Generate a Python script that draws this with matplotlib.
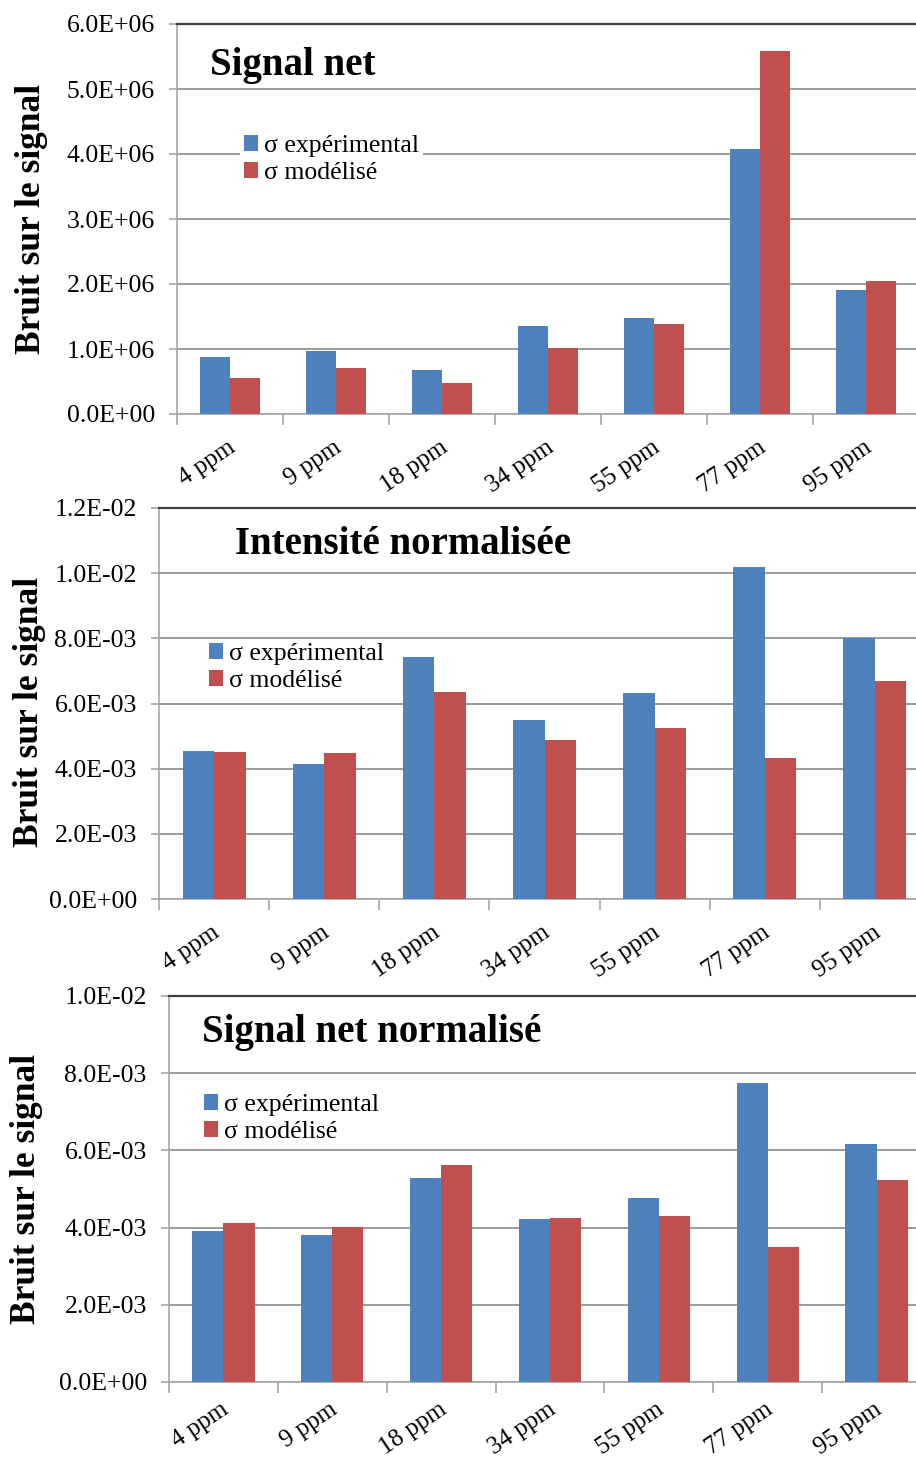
import numpy as np
import matplotlib
matplotlib.use("Agg")
import matplotlib.pyplot as plt
import matplotlib.transforms as mtransforms
from matplotlib.patches import Patch
from matplotlib.ticker import FuncFormatter

# ── DATA ─────────────────────────────────────────────────────────────────────
categories = ["4 ppm", "9 ppm", "18 ppm", "34 ppm", "55 ppm", "77 ppm", "95 ppm"]
series_names = ["σ expérimental", "σ modélisé"]

signal_net_exp = [0.878e6, 0.965e6, 0.674e6, 1.36e6, 1.48e6, 4.08e6, 1.915e6]
signal_net_mod = [0.56e6, 0.715e6, 0.47e6, 1.01e6, 1.39e6, 5.58e6, 2.05e6]

intensite_exp = [4.54e-3, 4.15e-3, 7.44e-3, 5.50e-3, 6.32e-3, 10.18e-3, 8.00e-3]
intensite_mod = [4.51e-3, 4.48e-3, 6.35e-3, 4.88e-3, 5.24e-3, 4.34e-3, 6.68e-3]

signal_norm_exp = [3.92e-3, 3.82e-3, 5.29e-3, 4.22e-3, 4.77e-3, 7.75e-3, 6.16e-3]
signal_norm_mod = [4.12e-3, 4.02e-3, 5.62e-3, 4.25e-3, 4.30e-3, 3.51e-3, 5.24e-3]

titles = ["Signal net", "Intensité normalisée", "Signal net normalisé"]
ylabel = "Bruit sur le signal"
y_max = [6.0e6, 1.2e-2, 1.0e-2]
y_step = [1.0e6, 2.0e-3, 2.0e-3]

# ── STYLE ────────────────────────────────────────────────────────────────────
plt.rcParams['font.family'] = ['Liberation Serif', 'DejaVu Serif']
BLUE = '#4F81BD'
RED = '#C0504D'
W, H = 916, 1459
DPI = 100

fig = plt.figure(figsize=(W / DPI, H / DPI), dpi=DPI)

# axes boxes in pixels: left, top, right, bottom
boxes = [(177, 24, 919, 414), (159, 508, 930, 899), (169, 996, 931, 1382)]
title_pos = [(210, 75), (235, 554), (202, 1042)]
legend_pos = [(240, 131), (205, 639), (200, 1090)]   # top-left of legend box
ylabel_pos = [(31, 219), (30, 712), (27, 1189)]
xlabel_pad = [16, 16, 12]

datasets = [(signal_net_exp, signal_net_mod),
            (intensite_exp, intensite_mod),
            (signal_norm_exp, signal_norm_mod)]


def sci(v, _):
    return f"{v:.1E}"


x = np.arange(len(categories))
bw = 1 / 3.5

for i, (exp, mod) in enumerate(datasets):
    l, t, r, b = boxes[i]
    ax = fig.add_axes([l / W, 1 - b / H, (r - l) / W, (b - t) / H])
    ax.bar(x - bw / 2, exp, bw, color=BLUE, zorder=3)
    ax.bar(x + bw / 2, mod, bw, color=RED, zorder=3)

    ax.set_xlim(-0.5, len(categories) - 0.5)
    ax.set_ylim(0, y_max[i])
    ax.set_yticks(np.arange(0, y_max[i] + y_step[i] / 2, y_step[i]))
    ax.yaxis.set_major_formatter(FuncFormatter(sci))
    ax.grid(axis='y', color='#8a8a8a', linewidth=1.2, zorder=0)
    ax.set_axisbelow(True)

    for side in ['left', 'bottom']:
        ax.spines[side].set_color('#a6a6a6')
        ax.spines[side].set_linewidth(1.2)
    ax.spines['top'].set_color('#404040')
    ax.spines['top'].set_linewidth(1.6)
    ax.spines['right'].set_visible(False)

    ax.tick_params(axis='y', length=6, width=1.2, color='#a6a6a6',
                   pad=10, labelsize=18.5)
    # category labels at centres, boundary tick marks as minor ticks
    ax.set_xticks(x)
    ax.set_xticklabels(categories)
    ax.set_xticks(np.arange(-0.5, len(categories)), minor=True)
    ax.tick_params(axis='x', which='major', length=0, pad=xlabel_pad[i],
                   labelsize=18)
    ax.tick_params(axis='x', which='minor', length=8, width=1.2, color='#a6a6a6')
    offset = mtransforms.ScaledTranslation(-3 / DPI, 0, fig.dpi_scale_trans)
    for lab in ax.get_xticklabels():
        lab.set_rotation(34)
        lab.set_ha('right')
        lab.set_va('top')
        lab.set_rotation_mode('anchor')
        lab.set_transform(lab.get_transform() + offset)

    tx, ty = title_pos[i]
    fig.text(tx / W, 1 - ty / H, titles[i], fontsize=28, fontweight='bold',
             ha='left', va='baseline')

    lx, ly = legend_pos[i]
    handles = [Patch(facecolor=BLUE), Patch(facecolor=RED)]
    leg = ax.legend(handles, series_names, loc='upper left',
                    bbox_to_anchor=(lx / W, 1 - ly / H),
                    bbox_transform=fig.transFigure, fontsize=18.5,
                    frameon=True, facecolor='white', edgecolor='none',
                    fancybox=False, framealpha=1, borderpad=0.15,
                    handlelength=0.55, handleheight=0.55, handletextpad=0.25,
                    labelspacing=0.2, borderaxespad=0)
    leg.set_zorder(5)

    yx, yy = ylabel_pos[i]
    fig.text(yx / W, 1 - yy / H, ylabel, rotation=90, fontsize=25.5,
             fontweight='bold', ha='center', va='center')

fig.savefig('out.png', dpi=DPI)
